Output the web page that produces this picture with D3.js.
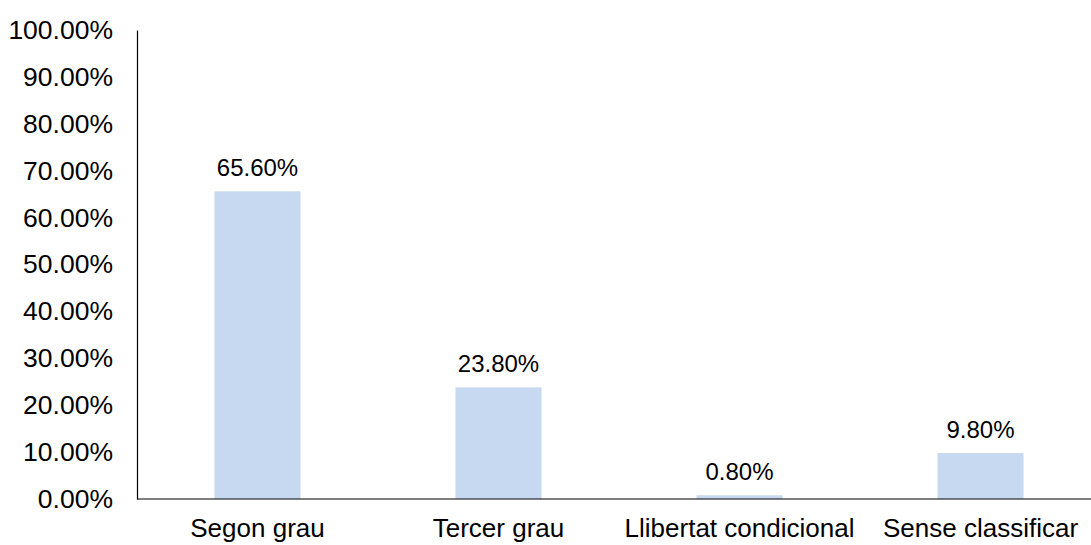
<!DOCTYPE html>
<html>
<head>
<meta charset="utf-8">
<script src="https://cdn.jsdelivr.net/npm/d3@7"></script>
<style>
  body { margin: 0; background: #fff; }
  svg text { font-family: "Liberation Sans", Arial, sans-serif; fill: #000; }
</style>
</head>
<body>
<div id="chart"></div>
<script>
var categories = ["Segon grau", "Tercer grau", "Llibertat condicional", "Sense classificar"];
var values = [65.6, 23.8, 0.8, 9.8];
var yTicks = [0, 10, 20, 30, 40, 50, 60, 70, 80, 90, 100];

var width = 1091,
    height = 545,
    x0 = 137, x1 = 1101,
    yTop = 30, yBottom = 499;

var svg = d3.select("#chart")
  .append("svg")
  .attr("width", width)
  .attr("height", height);

var xScale = d3.scaleBand()
  .domain(categories)
  .range([x0, x1])
  .paddingInner(0.643)
  .paddingOuter(0.3215);

var yScale = d3.scaleLinear()
  .domain([0, 100])
  .range([yBottom, yTop]);

// bars
svg.selectAll(".bar")
  .data(values)
  .enter().append("rect")
  .attr("class", "bar")
  .attr("x", (d, i) => xScale(categories[i]))
  .attr("y", d => yScale(d))
  .attr("width", xScale.bandwidth())
  .attr("height", d => yBottom - yScale(d))
  .style("fill", "#c6d9f0");

// value labels
svg.selectAll(".value")
  .data(values)
  .enter().append("text")
  .attr("class", "value")
  .attr("x", (d, i) => xScale(categories[i]) + xScale.bandwidth() / 2)
  .attr("y", d => yScale(d) - 15)
  .attr("text-anchor", "middle")
  .style("font-size", "24px")
  .text(d => d.toFixed(2) + "%");

// Y axis
var yAxis = d3.axisLeft(yScale)
  .tickValues(yTicks)
  .tickSize(0)
  .tickPadding(24)
  .tickFormat(d => d.toFixed(2) + "%");

var gy = svg.append("g")
  .attr("class", "y axis")
  .attr("transform", `translate(${x0},0)`)
  .call(yAxis);
gy.select(".domain").attr("stroke", "#000").attr("stroke-width", 1.2);
gy.selectAll("text").style("font-size", "26.5px").attr("fill", "#000");

// X axis
var xAxis = d3.axisBottom(xScale).tickSize(0).tickPadding(20);
var gx = svg.append("g")
  .attr("class", "x axis")
  .attr("transform", `translate(0,${yBottom})`)
  .call(xAxis);
gx.select(".domain").remove();
gx.append("line")
  .attr("x1", x0).attr("x2", width)
  .attr("y1", 0).attr("y2", 0)
  .attr("stroke", "#000").attr("stroke-width", 1.2);
gx.selectAll("text").style("font-size", "26px").attr("fill", "#000");
</script>
</body>
</html>
